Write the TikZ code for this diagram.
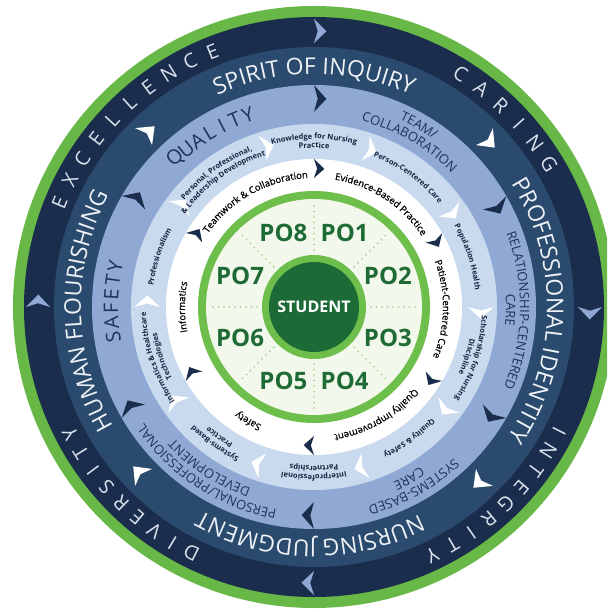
\documentclass[tikz,border=0pt]{standalone}
\usepackage{fontspec}
\setmainfont{Open Sans}
\newfontfamily\semib[FakeBold=0.7]{Open Sans}
\usetikzlibrary{decorations.text}
\definecolor{ogreen}{HTML}{67B846}
\definecolor{navyA}{HTML}{1B2D4D}
\definecolor{navyB}{HTML}{2A4A6E}
\definecolor{blueC}{HTML}{8FA9D4}
\definecolor{blueD}{HTML}{C9DAEF}
\definecolor{igreen}{HTML}{6DBE4B}
\definecolor{sgreen}{HTML}{1C6B37}
\definecolor{potext}{HTML}{1F6B36}
\definecolor{pgA}{HTML}{F3F8EC}
\definecolor{pgM}{HTML}{E2EFD2}
\definecolor{pgB}{HTML}{BEDC9E}
\definecolor{dotg}{HTML}{9BCB7A}
\definecolor{ringwhite}{HTML}{EEF2F7}
\definecolor{ringletter}{HTML}{D9E1EC}
\definecolor{navytext}{HTML}{1E3458}
\definecolor{smalltext}{HTML}{1A2540}
\pgfdeclareradialshading{pogreen}{\pgfpoint{0bp}{0bp}}{color(0bp)=(pgA); color(24bp)=(pgA); color(36bp)=(pgM); color(50bp)=(pgB)}
\newcommand\midfont{\fontsize{23}{23}\selectfont}
\newcommand\twofont{\fontsize{13}{13}\selectfont}
\newcommand\smallfont{\bfseries\fontsize{7.5}{7.5}\selectfont}
\newcommand\whitefont{\semib\fontsize{9.5}{9.5}\selectfont}
% #1 centre angle, #2 baseline radius, #3 font, #4 colour, #5 text
\newcommand\arctext[5]{%
  \path[decorate,decoration={text along path,text align=center,text color=#4,text={|#3|#5}}]
    ({#1+60}:#2) arc[start angle={#1+60}, end angle={#1-60}, radius=#2];}
% #1 start angle, #2 step, #3 radius, #4 style, #5 name prefix, #6 letters
\newcommand\spacedword[6]{%
  \foreach \ch [count=\k from 0] in {#6} {%
    \pgfmathsetmacro\aa{#1-\k*#2}
    \node[#4, rotate=\aa-90] (#5\k) at (\aa:#3) {\ch};
  }}
% #1 angle, #2 inner radius, #3 outer radius, #4 tip angle, #5 colour
\newcommand\marker[5]{%
  \fill[#5] (#1:#2) -- ({#1-#4}:{(#2+#3)/2}) -- (#1:#3) -- ({#1-0.3*#4}:{(#2+#3)/2}) -- cycle;}
\tikzset{
  outerletter/.style={font=\fontsize{20}{20}\selectfont, text=ringletter, inner sep=0pt},
  qletter/.style={font=\fontsize{20}{20}\selectfont, text=navytext, inner sep=0pt},
  po/.style={font=\bfseries\fontsize{24}{24}\selectfont, text=potext, inner sep=0pt},
  podots/.style={dotg, line width=1.8pt, line cap=round, dash pattern=on 0pt off 5.5pt}
}
\begin{document}
\begin{tikzpicture}[x=1pt,y=1pt]
\useasboundingbox (-314,-305) rectangle (293,307);
\fill[white] (-314,-305) rectangle (293,307);
\clip (-314,-305) rectangle (293,307);
% rings
\fill[ogreen] (0,0) circle[radius=301];
\fill[navyA] (0,0) circle[radius=290];
\fill[navyB] (0,0) circle[radius=260];
\fill[blueC] (0,0) circle[radius=222];
\fill[blueD] (0,0) circle[radius=183];
\fill[white] (0,0) circle[radius=148];
\fill[igreen] (0,0) circle[radius=116];
\shade[shading=pogreen] (0,0) circle[radius=108];
\foreach \a in {0,45,...,315} \draw[podots] (\a:57) -- (\a:105);
\fill[igreen] (0,0) circle[radius=52];
\fill[sgreen] (0,0) circle[radius=45];
\node[font=\bfseries\fontsize{16}{16}\selectfont, text=white] (student) at (0,0) {STUDENT};
% program outcomes
\node[po] (po1) at (67.5:80) {PO1};
\node[po] (po2) at (22.5:80) {PO2};
\node[po] (po3) at (-22.5:80) {PO3};
\node[po] (po4) at (-67.5:80) {PO4};
\node[po] (po5) at (-112.5:80) {PO5};
\node[po] (po6) at (-157.5:80) {PO6};
\node[po] (po7) at (157.5:80) {PO7};
\node[po] (po8) at (112.5:80) {PO8};
% markers
\foreach \a in {90,0,-90,180} \marker{\a}{264}{288}{2.6}{blueC};
\foreach \a in {135,45,-45,-135} \marker{\a}{229}{253}{3.6}{white};
\foreach \a in {90,30,-30,-90,-150,150} \marker{\a}{195}{222}{3.4}{navyA};
\foreach \a in {180,144,108,72,36,0,-36,-72,-108,-144} \marker{\a}{154}{180}{4.0}{white};
\foreach \a in {90,30,-30,-90,-150,150} \marker{\a}{129}{148}{4.3}{navyA};
% outer ring words
\spacedword{157.6}{5.1}{275}{outerletter}{exc}{E,X,C,E,L,L,E,N,C,E}
\spacedword{57.8}{5.3}{275}{outerletter}{car}{C,A,R,I,N,G}
\spacedword{-26.9}{4.7}{275}{outerletter}{int}{I,N,T,E,G,R,I,T,Y}
\spacedword{243.5}{4.5}{275}{outerletter}{div}{D,I,V,E,R,S,I,T,Y}
% middle ring
\arctext{90}{233}{\midfont}{ringwhite}{SPIRIT OF INQUIRY}
\arctext{-1}{233}{\midfont}{ringwhite}{PROFESSIONAL IDENTITY}
\arctext{-91}{233}{\midfont}{ringwhite}{NURSING JUDGMENT}
\arctext{181}{233}{\midfont}{ringwhite}{HUMAN FLOURISHING}
% light blue ring
\spacedword{133}{4.0}{203}{qletter}{qua}{Q,U,A,L,I,T,Y}
\spacedword{188.4}{4.0}{203}{qletter}{saf}{S,A,F,E,T,Y}
\arctext{60}{206}{\twofont}{navytext}{TEAM/}
\arctext{60}{192}{\twofont}{navytext}{COLLABORATION}
\arctext{-1}{206}{\twofont}{navytext}{RELATIONSHIP-CENTERED}
\arctext{-1}{192}{\twofont}{navytext}{CARE}
\arctext{-61}{206}{\twofont}{navytext}{SYSTEMS-BASED}
\arctext{-61}{192}{\twofont}{navytext}{CARE}
\arctext{-123}{206}{\twofont}{navytext}{PERSONAL/PROFESSIONAL}
\arctext{-123}{192}{\twofont}{navytext}{DEVELOPMENT}
% lighter ring
\arctext{162}{162}{\smallfont}{smalltext}{Professionalism}
\arctext{126}{168}{\smallfont}{smalltext}{Personal, Professional,}
\arctext{126}{159}{\smallfont}{smalltext}{{\&} Leadership Development}
\arctext{90}{168}{\smallfont}{smalltext}{Knowledge for Nursing}
\arctext{90}{159}{\smallfont}{smalltext}{Practice}
\arctext{54}{162}{\smallfont}{smalltext}{Person-Centered Care}
\arctext{18}{162}{\smallfont}{smalltext}{Population Health}
\arctext{-18}{168}{\smallfont}{smalltext}{Scholarship for Nursing}
\arctext{-18}{159}{\smallfont}{smalltext}{Discipline}
\arctext{-54}{162}{\smallfont}{smalltext}{Quality {\&} Safety}
\arctext{-90}{168}{\smallfont}{smalltext}{Interprofessional}
\arctext{-90}{159}{\smallfont}{smalltext}{Partnerships}
\arctext{-126}{168}{\smallfont}{smalltext}{Systems-Based}
\arctext{-126}{159}{\smallfont}{smalltext}{Practice}
\arctext{-162}{168}{\smallfont}{smalltext}{Informatics {\&} Healthcare}
\arctext{-162}{159}{\smallfont}{smalltext}{Technologies}
% white ring
\arctext{119}{129}{\whitefont}{black}{Teamwork {\&} Collaboration}
\arctext{57}{129}{\whitefont}{black}{Evidence-Based Practice}
\arctext{-1}{129}{\whitefont}{black}{Patient-Centered Care}
\arctext{-60}{129}{\whitefont}{black}{Quality Improvement}
\arctext{-120}{129}{\whitefont}{black}{Safety}
\arctext{180}{129}{\whitefont}{black}{Informatics}
\end{tikzpicture}
\end{document}
